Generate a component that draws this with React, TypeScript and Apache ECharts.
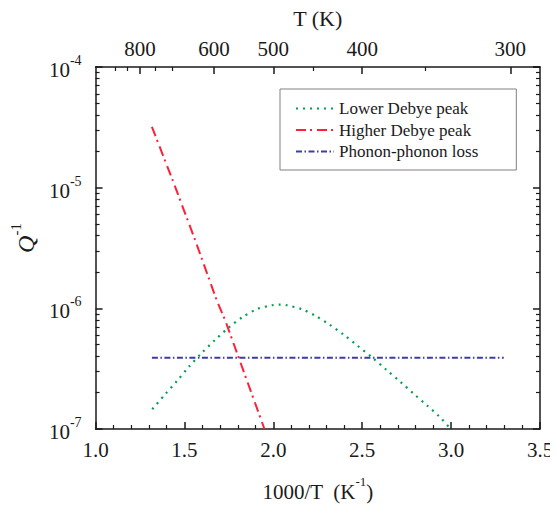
import React, { useEffect, useRef, useState } from "react";
import * as echarts from "echarts";

const FONT = "Liberation Serif";

// Lower Debye peak (green dotted)
const lowerX = [1.319, 1.39, 1.459, 1.526, 1.598, 1.674, 1.751, 1.831, 1.912, 1.993, 2.034, 2.076, 2.159, 2.236, 2.316, 2.396, 2.475, 2.556, 2.636, 2.716, 2.793, 2.864, 2.931, 2.998];
const lowerY = [1.46e-7, 1.93e-7, 2.51e-7, 3.29e-7, 4.28e-7, 5.5e-7, 6.97e-7, 8.53e-7, 9.91e-7, 1.06e-6, 1.074e-6, 1.06e-6, 9.84e-7, 8.69e-7, 7.33e-7, 6.04e-7, 4.88e-7, 3.92e-7, 3.09e-7, 2.45e-7, 1.94e-7, 1.57e-7, 1.28e-7, 1.0e-7];

// Higher Debye peak (red dash-dot)
const higherX = [1.317, 1.434, 1.561, 1.681, 1.73, 1.95];
const higherY = [3.19e-5, 1.15e-5, 3.65e-6, 1.17e-6, 7.9e-7, 1.0e-7];

// Phonon-phonon loss (blue dash-dot)
const phononX = [1.317, 3.296];
const phononY = [3.9e-7, 3.9e-7];

// Axes
const xMin = 1.0;
const xMax = 3.5;
const xInterval = 0.5;
const yMin = 1e-7;
const yMax = 1e-4;
const topTempLabels = [800, 600, 500, 400, 300];
const topTempMinor = [900, 850, 750, 700, 450, 350];
const yMinorMultipliers = [2, 3, 4, 5, 6, 7, 8, 9];
const yDecades = [1e-7, 1e-6, 1e-5];

const pairs = (xs: number[], ys: number[]) => xs.map((x, i) => [x, ys[i]]);

function buildOption(): any {
  const axisLine = { show: true, lineStyle: { color: "#1a1a1a", width: 1.5 } };
  const yMinorVals: number[] = [];
  yDecades.forEach((d) => yMinorMultipliers.forEach((m) => yMinorVals.push(m * d)));
  return {
    animation: false,
    backgroundColor: "#ffffff",
    textStyle: { fontFamily: FONT, color: "#1a1a1a" },
    grid: { left: 86, right: 18, top: 67, bottom: 73, containLabel: false },
    legend: {
      left: 280,
      top: 89,
      orient: "vertical",
      itemWidth: 38,
      itemHeight: 14,
      itemGap: 4.5,
      padding: [11, 38, 10, 15],
      borderColor: "#808080",
      borderWidth: 1,
      backgroundColor: "#ffffff",
      itemStyle: { opacity: 0 },
      textStyle: { fontFamily: FONT, fontSize: 17, color: "#1a1a1a" },
      data: ["Lower Debye peak", "Higher Debye peak", "Phonon-phonon loss"],
    },
    xAxis: [
      {
        type: "value",
        position: "bottom",
        min: xMin,
        max: xMax,
        interval: xInterval,
        axisLine,
        axisTick: { show: true, inside: true, length: 7, lineStyle: { color: "#1a1a1a", width: 1.5 } },
        minorTick: { show: true, splitNumber: 5, length: 4, lineStyle: { color: "#1a1a1a", width: 1.2 } },
        splitLine: { show: false },
        axisLabel: {
          margin: 10,
          fontFamily: FONT,
          fontSize: 21,
          color: "#1a1a1a",
          formatter: (v: number) => v.toFixed(1),
        },
        name: "{a|1000/T  (K}{b|-1}{a|)}",
        nameLocation: "middle",
        nameGap: 46,
        nameTextStyle: {
          rich: {
            a: { fontFamily: FONT, fontSize: 21, color: "#1a1a1a", padding: [6, 0, 0, 0] },
            b: { fontFamily: FONT, fontSize: 13, color: "#1a1a1a", verticalAlign: "top" },
          },
        },
      },
      {
        type: "value",
        position: "top",
        min: xMin,
        max: xMax,
        axisLine,
        axisTick: {
          show: true,
          inside: true,
          length: 7,
          lineStyle: { color: "#1a1a1a", width: 1.5 },
          customValues: topTempLabels.map((t) => 1000 / t),
        },
        axisLabel: {
          margin: 8,
          fontFamily: FONT,
          fontSize: 21,
          color: "#1a1a1a",
          customValues: topTempLabels.map((t) => 1000 / t),
          formatter: (v: number) => String(Math.round(1000 / v)),
        },
        splitLine: { show: false },
        name: "T (K)",
        nameLocation: "middle",
        nameGap: 38,
        nameTextStyle: { fontFamily: FONT, fontSize: 22, color: "#1a1a1a" },
      },
      {
        type: "value",
        position: "top",
        min: xMin,
        max: xMax,
        axisLine: { show: false },
        axisTick: {
          show: true,
          inside: true,
          length: 4,
          lineStyle: { color: "#1a1a1a", width: 1.2 },
          customValues: topTempMinor.map((t) => 1000 / t),
        },
        axisLabel: { show: false },
        splitLine: { show: false },
      },
    ],
    yAxis: [
      {
        type: "log",
        logBase: 10,
        position: "left",
        min: yMin,
        max: yMax,
        axisLine,
        axisTick: { show: true, inside: true, length: 7, lineStyle: { color: "#1a1a1a", width: 1.5 } },
        splitLine: { show: false },
        axisLabel: {
          margin: 14,
          formatter: (v: number) => `{a|10}{b|${Math.round(Math.log10(v))}}`,
          rich: {
            a: { fontFamily: FONT, fontSize: 21, color: "#1a1a1a", padding: [6, 0, 0, 0] },
            b: { fontFamily: FONT, fontSize: 14, color: "#1a1a1a", verticalAlign: "top" },
          },
        },
        name: "{q|Q}{b|-1}",
        nameLocation: "middle",
        nameRotate: 90,
        nameGap: 50,
        nameTextStyle: {
          padding: [0, 0, 0, 20],
          rich: {
            q: { fontFamily: FONT, fontSize: 24, fontStyle: "italic", color: "#1a1a1a", padding: [6, 0, 0, 0] },
            b: { fontFamily: FONT, fontSize: 15, color: "#1a1a1a", verticalAlign: "top" },
          },
        },
      },
      {
        type: "log",
        logBase: 10,
        position: "left",
        min: yMin,
        max: yMax,
        axisLine: { show: false },
        axisTick: {
          show: true,
          inside: true,
          length: 4,
          lineStyle: { color: "#1a1a1a", width: 1.2 },
          customValues: yMinorVals,
        },
        axisLabel: { show: false },
        splitLine: { show: false },
      },
      {
        type: "log",
        logBase: 10,
        position: "right",
        min: yMin,
        max: yMax,
        axisLine,
        axisTick: { show: true, inside: true, length: 7, lineStyle: { color: "#1a1a1a", width: 1.5 } },
        axisLabel: { show: false },
        splitLine: { show: false },
      },
      {
        type: "log",
        logBase: 10,
        position: "right",
        min: yMin,
        max: yMax,
        axisLine: { show: false },
        axisTick: {
          show: true,
          inside: true,
          length: 4,
          lineStyle: { color: "#1a1a1a", width: 1.2 },
          customValues: yMinorVals,
        },
        axisLabel: { show: false },
        splitLine: { show: false },
      },
    ],
    series: [
      {
        name: "Lower Debye peak",
        type: "line",
        data: pairs(lowerX, lowerY),
        symbol: "none",
        smooth: 0.3,
        color: "#00a050",
        lineStyle: { color: "#00a050", width: 2.2, type: [2, 5] },
      },
      {
        name: "Higher Debye peak",
        type: "line",
        data: pairs(higherX, higherY),
        symbol: "none",
        color: "#ff2035",
        lineStyle: { color: "#ff2035", width: 2, type: [10, 4, 2, 5] },
      },
      {
        name: "Phonon-phonon loss",
        type: "line",
        data: pairs(phononX, phononY),
        symbol: "none",
        color: "#3c3ca8",
        lineStyle: { color: "#3c3ca8", width: 2, type: [6, 2.5, 1.5, 2.5] },
      },
    ],
  };
}

export default function App() {
  const ref = useRef<HTMLDivElement>(null);
  const [ready, setReady] = useState(false);
  useEffect(() => {
    const chart = echarts.init(ref.current!, null, { renderer: "svg" });
    chart.setOption(buildOption());
    setReady(true);
    let alive = true;
    const redraw = () => {
      if (!alive) return;
      chart.clear();
      chart.setOption(buildOption());
    };
    const fonts: any = (document as any).fonts;
    if (fonts && fonts.load) {
      fonts.load('21px "Liberation Serif"').then(redraw, redraw);
    }
    return () => {
      alive = false;
      chart.dispose();
    };
  }, []);
  return (
    <div style={{ position: "relative", left: -8, top: -8 }}>
      <div ref={ref} style={{ width: 558, height: 507 }} />
      <div style={{ fontFamily: FONT, fontSize: 12, color: "#ffffff", height: 20 }}>
        {ready ? "Liberation Serif ready" : "Liberation Serif"}
      </div>
    </div>
  );
}
